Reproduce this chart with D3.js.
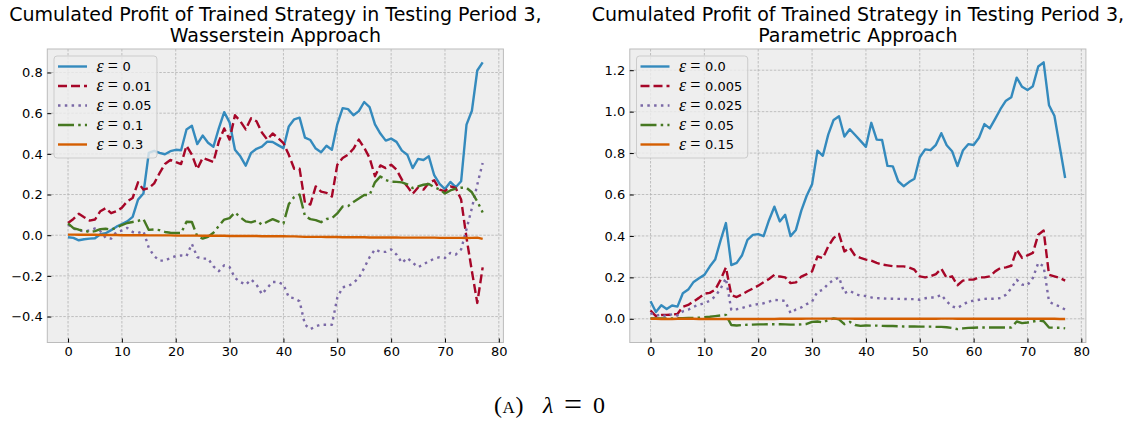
<!DOCTYPE html>
<html>
<head>
<meta charset="utf-8">
<script src="https://d3js.org/d3.v7.min.js"></script>
<style>
  body { margin: 0; background: #ffffff; }
</style>
</head>
<body>
<div id="chart"></div>
<script>
// ---- data (one value per testing step 0..77) ----
const steps = d3.range(78);

const xTicks = [0, 10, 20, 30, 40, 50, 60, 70, 80];
const wassYTicks = [-0.4, -0.2, 0.0, 0.2, 0.4, 0.6, 0.8];
const paramYTicks = [0.0, 0.2, 0.4, 0.6, 0.8, 1.0, 1.2];

const wassLabels = ["0", "0.01", "0.05", "0.1", "0.3"];
const paramLabels = ["0.0", "0.005", "0.025", "0.05", "0.15"];

// Wasserstein approach
const wass0 = [-0.010,-0.013,-0.025,-0.020,-0.017,-0.015,0.005,0.010,0.025,0.042,
  0.055,0.068,0.090,0.175,0.205,0.405,0.415,0.405,0.398,0.413,
  0.420,0.418,0.520,0.538,0.448,0.490,0.455,0.435,0.525,0.605,
  0.555,0.420,0.388,0.342,0.405,0.425,0.435,0.460,0.458,0.443,
  0.428,0.535,0.570,0.578,0.480,0.468,0.426,0.408,0.440,0.420,
  0.545,0.625,0.620,0.590,0.610,0.655,0.630,0.545,0.500,0.465,
  0.475,0.459,0.416,0.396,0.330,0.375,0.370,0.388,0.295,0.252,
  0.227,0.262,0.236,0.265,0.544,0.612,0.810,0.850];
const wass001 = [0.060,0.080,0.105,0.088,0.072,0.077,0.118,0.133,0.108,0.118,
  0.135,0.167,0.183,0.260,0.224,0.232,0.255,0.305,0.350,0.370,
  0.360,0.350,0.440,0.396,0.325,0.380,0.370,0.360,0.460,0.525,
  0.470,0.590,0.560,0.520,0.575,0.560,0.505,0.470,0.500,0.478,
  0.453,0.395,0.327,0.327,0.159,0.151,0.240,0.214,0.208,0.190,
  0.346,0.380,0.396,0.425,0.470,0.430,0.380,0.290,0.343,0.330,
  0.347,0.322,0.273,0.240,0.203,0.235,0.224,0.257,0.270,0.224,
  0.216,0.240,0.232,0.175,-0.013,-0.177,-0.333,-0.158];
const wass005 = [0.052,0.033,0.023,0.020,0.023,0.033,0.020,-0.013,-0.017,0.016,
  0.023,0.036,0.016,0.011,0.020,-0.062,-0.103,-0.125,-0.125,-0.112,
  -0.103,-0.100,-0.103,-0.043,-0.108,-0.115,-0.115,-0.153,-0.177,-0.148,
  -0.157,-0.210,-0.230,-0.243,-0.218,-0.243,-0.290,-0.259,-0.230,-0.230,
  -0.243,-0.305,-0.310,-0.325,-0.440,-0.462,-0.448,-0.440,-0.440,-0.440,
  -0.308,-0.256,-0.251,-0.235,-0.210,-0.161,-0.108,-0.070,-0.082,-0.082,
  -0.070,-0.095,-0.136,-0.112,-0.135,-0.157,-0.144,-0.128,-0.116,-0.108,
  -0.112,-0.087,-0.095,-0.070,0.030,0.134,0.249,0.355];
const wass01 = [0.058,0.035,0.027,0.022,0.016,0.020,0.030,0.032,0.028,0.036,
  0.050,0.060,0.065,0.070,0.079,0.026,0.028,0.025,0.016,0.012,
  0.011,0.011,0.066,0.065,-0.006,-0.017,-0.008,0.012,0.045,0.077,
  0.084,0.112,0.088,0.068,0.063,0.072,0.052,0.066,0.079,0.068,
  0.057,0.153,0.188,0.200,0.094,0.079,0.074,0.064,0.080,0.083,
  0.107,0.141,0.143,0.163,0.180,0.198,0.198,0.260,0.289,0.271,
  0.263,0.262,0.260,0.250,0.232,0.240,0.248,0.252,0.236,0.225,
  0.205,0.220,0.229,0.234,0.233,0.211,0.166,0.112];
const wass03 = [0.003,0.003,0.002,0.002,0.002,0.002,0.001,0.001,0.001,0.001,
  0.000,0.000,0.000,0.000,0.000,-0.001,-0.001,-0.001,-0.001,-0.001,
  -0.002,-0.002,-0.002,-0.002,-0.002,-0.003,-0.003,-0.003,-0.003,-0.003,
  -0.004,-0.004,-0.004,-0.004,-0.004,-0.004,-0.005,-0.005,-0.005,-0.005,
  -0.005,-0.006,-0.006,-0.007,-0.008,-0.008,-0.008,-0.008,-0.009,-0.009,
  -0.009,-0.010,-0.010,-0.010,-0.010,-0.010,-0.011,-0.011,-0.011,-0.011,
  -0.011,-0.011,-0.012,-0.012,-0.012,-0.012,-0.012,-0.012,-0.012,-0.013,
  -0.013,-0.013,-0.013,-0.013,-0.014,-0.013,-0.012,-0.018];

// Parametric approach
const param00 = [0.085,0.033,0.065,0.047,0.064,0.059,0.123,0.141,0.178,0.196,
  0.212,0.252,0.286,0.377,0.462,0.259,0.270,0.307,0.381,0.405,
  0.409,0.399,0.476,0.541,0.470,0.502,0.399,0.429,0.522,0.594,
  0.649,0.812,0.787,0.889,0.960,0.978,0.880,0.915,0.887,0.859,
  0.830,0.946,0.865,0.863,0.738,0.736,0.664,0.640,0.660,0.676,
  0.780,0.818,0.814,0.840,0.896,0.838,0.809,0.737,0.812,0.843,
  0.839,0.874,0.940,0.919,0.965,1.013,1.053,1.070,1.164,1.120,
  1.104,1.123,1.218,1.238,1.031,0.980,0.830,0.680];
const param0005 = [0.040,0.013,0.018,0.019,0.020,0.023,0.058,0.067,0.084,0.101,
  0.121,0.125,0.140,0.188,0.248,0.115,0.105,0.118,0.133,0.146,
  0.160,0.177,0.192,0.212,0.204,0.200,0.172,0.176,0.204,0.216,
  0.229,0.301,0.293,0.349,0.390,0.410,0.325,0.343,0.304,0.294,
  0.286,0.281,0.270,0.262,0.258,0.254,0.253,0.253,0.248,0.237,
  0.205,0.200,0.205,0.216,0.242,0.197,0.205,0.162,0.184,0.189,
  0.189,0.200,0.200,0.205,0.229,0.245,0.248,0.256,0.334,0.294,
  0.306,0.318,0.406,0.426,0.213,0.205,0.197,0.184];
const param0025 = [0.028,0.016,0.020,0.011,0.023,0.016,0.036,0.044,0.058,0.068,
  0.076,0.087,0.108,0.145,0.196,0.043,0.046,0.052,0.060,0.067,
  0.071,0.075,0.083,0.091,0.090,0.086,0.028,0.045,0.055,0.071,
  0.083,0.131,0.140,0.169,0.188,0.200,0.125,0.135,0.120,0.112,
  0.110,0.103,0.100,0.099,0.097,0.097,0.096,0.096,0.095,0.095,
  0.092,0.099,0.103,0.103,0.116,0.084,0.060,0.052,0.068,0.083,
  0.087,0.092,0.096,0.097,0.097,0.100,0.116,0.148,0.188,0.165,
  0.162,0.197,0.270,0.253,0.084,0.068,0.060,0.044];
const param005 = [0.002,0.002,0.002,0.002,0.002,0.003,0.003,0.004,0.004,0.005,
  0.008,0.010,0.013,0.016,0.019,-0.030,-0.032,-0.030,-0.029,-0.028,
  -0.027,-0.027,-0.026,-0.026,-0.026,-0.027,-0.028,-0.028,-0.027,-0.025,
  -0.015,-0.013,-0.018,-0.006,0.002,-0.003,-0.026,-0.015,-0.030,-0.034,
  -0.032,-0.033,-0.033,-0.034,-0.035,-0.035,-0.036,-0.037,-0.037,-0.037,
  -0.038,-0.038,-0.038,-0.039,-0.039,-0.041,-0.044,-0.050,-0.046,-0.044,
  -0.043,-0.042,-0.042,-0.042,-0.042,-0.042,-0.042,-0.042,-0.013,-0.021,
  -0.018,-0.013,-0.008,-0.012,-0.042,-0.043,-0.043,-0.046];
const param015 = [0.000,0.000,-0.001,-0.001,-0.001,0.000,0.000,0.000,0.000,-0.001,
  -0.001,-0.001,-0.001,-0.001,-0.001,-0.001,-0.001,-0.001,-0.001,-0.001,
  -0.001,-0.001,-0.001,-0.001,0.000,0.000,0.000,0.000,0.000,0.001,
  0.001,0.001,0.001,0.001,0.001,0.001,0.001,0.001,0.000,0.000,
  0.000,0.000,0.000,0.000,0.000,0.000,0.000,0.000,0.000,0.000,
  0.000,0.000,0.000,0.000,0.001,0.001,0.001,0.000,0.000,0.000,
  0.000,0.000,0.000,0.000,0.000,0.000,0.000,0.000,0.000,0.000,
  0.000,0.000,0.000,0.000,0.000,0.000,-0.001,-0.001];

// bmh colour cycle + line styles (solid, dashed, dotted, dash-dot, solid)
const colors = ["#348ABD", "#A60628", "#7A68A6", "#467821", "#D55E00"];
const dashes = [null, "9,4", "2.5,4.3", "16,4.2,2.5,4.2", null];

const width = 1137, height = 421;
const svg = d3.select("#chart").append("svg")
  .attr("width", width)
  .attr("height", height)
  .style("font-family", "'DejaVu Sans', sans-serif");

function drawPanel(left, series, labels, yTicks, subtitle) {
  const top = 49, bottom = 342.5, w = 456.1;

  // matplotlib style 5% margins
  const xr = d3.extent(steps), xm = (xr[1] - xr[0]) * 0.05;
  const yr = d3.extent(series.flat()), ym = (yr[1] - yr[0]) * 0.05;
  const x = d3.scaleLinear().domain([xr[0] - xm, xr[1] + xm]).range([left, left + w]);
  const y = d3.scaleLinear().domain([yr[0] - ym, yr[1] + ym]).range([bottom, top]);

  const g = svg.append("g");

  g.append("rect")
    .attr("x", left).attr("y", top)
    .attr("width", w).attr("height", bottom - top)
    .attr("fill", "#eeeeee");

  // grid
  const grid = g.append("g")
    .attr("stroke", "#b2b2b2")
    .attr("stroke-width", 0.8)
    .attr("stroke-dasharray", "2.5,1.5");
  grid.selectAll(".gx").data(xTicks).join("line")
    .attr("x1", d => x(d)).attr("x2", d => x(d))
    .attr("y1", top).attr("y2", bottom);
  grid.selectAll(".gy").data(yTicks).join("line")
    .attr("y1", d => y(d)).attr("y2", d => y(d))
    .attr("x1", left).attr("x2", left + w);

  // the lines
  const line = d3.line().x((d, i) => x(steps[i])).y(d => y(d));
  series.forEach(function(s, k) {
    g.append("path")
      .datum(s)
      .attr("d", line)
      .attr("fill", "none")
      .attr("stroke", colors[k])
      .attr("stroke-width", 2.4)
      .attr("stroke-linejoin", "round")
      .attr("stroke-dasharray", dashes[k]);
  });

  // frame
  g.append("rect")
    .attr("x", left).attr("y", top)
    .attr("width", w).attr("height", bottom - top)
    .attr("fill", "none")
    .attr("stroke", "#bcbcbc")
    .attr("stroke-width", 1);

  // axes, ticks pointing inwards
  const xAxis = g.append("g")
    .attr("transform", "translate(0," + bottom + ")")
    .call(d3.axisBottom(x).tickValues(xTicks).tickSize(-4).tickPadding(4.6).tickFormat(d3.format("d")));
  const yAxis = g.append("g")
    .attr("transform", "translate(" + left + ",0)")
    .call(d3.axisLeft(y).tickValues(yTicks).tickSize(-4).tickPadding(4.6).tickFormat(d3.format(".1f")));
  [xAxis, yAxis].forEach(function(a) {
    a.select(".domain").remove();
    a.selectAll(".tick line").attr("stroke", "#000").attr("stroke-width", 1);
    a.selectAll(".tick text")
      .attr("fill", "#000")
      .style("font-family", "'DejaVu Sans', sans-serif")
      .style("font-size", "13px");
  });

  // title, two lines
  const cx = left + w / 2;
  const title = g.append("text")
    .attr("text-anchor", "middle")
    .attr("fill", "#000")
    .style("font-size", "19px");
  title.append("tspan").attr("x", cx).attr("y", 21)
    .text("Cumulated Profit of Trained Strategy in Testing Period 3,");
  title.append("tspan").attr("x", cx).attr("y", 42).text(subtitle);

  // legend
  const lx = left + 6.7, ly = 56;
  const leg = g.append("g");
  const box = leg.append("rect")
    .attr("x", lx).attr("y", ly)
    .attr("height", 102)
    .attr("rx", 3)
    .attr("fill", "#eeeeee")
    .attr("fill-opacity", 0.8)
    .attr("stroke", "#cccccc")
    .attr("stroke-width", 1);
  let maxRight = 0;
  labels.forEach(function(lab, k) {
    const cy = ly + 10.5 + k * 19.5;
    leg.append("line")
      .attr("x1", lx + 4).attr("x2", lx + 33)
      .attr("y1", cy).attr("y2", cy)
      .attr("stroke", colors[k])
      .attr("stroke-width", 2.4)
      .attr("stroke-dasharray", dashes[k]);
    // epsilon and equals sign in a serif, like mathtext
    const eq = leg.append("text")
      .attr("y", cy + 5)
      .attr("fill", "#000")
      .style("font-family", "'Liberation Serif', serif")
      .style("font-size", "18px");
    eq.append("tspan").attr("x", lx + 42.5).style("font-style", "italic").text("\u03b5");
    eq.append("tspan").attr("x", lx + 53.8).text("=");
    const val = leg.append("text")
      .attr("x", lx + 68.5).attr("y", cy + 4.6)
      .attr("fill", "#000")
      .style("font-size", "13px")
      .text(lab);
    maxRight = Math.max(maxRight, lx + 68.5 + val.node().getComputedTextLength());
  });
  box.attr("width", maxRight + 5.5 - lx);
}

drawPanel(47.3, [wass0, wass001, wass005, wass01, wass03], wassLabels, wassYTicks, "Wasserstein Approach");
drawPanel(629.8, [param00, param0005, param0025, param005, param015], paramLabels, paramYTicks, "Parametric Approach");

// caption under both panels: (A) lambda = 0
const cap = svg.append("text")
  .attr("y", 413)
  .attr("fill", "#000")
  .style("font-family", "'Liberation Serif', serif")
  .style("font-size", "24px");
cap.append("tspan").attr("x", 494).text("(");
cap.append("tspan").attr("x", 502.5).style("font-size", "17px").text("A");
cap.append("tspan").attr("x", 515.5).text(")");
cap.append("tspan").attr("x", 543).style("font-style", "italic").text("\u03bb");
cap.append("tspan").attr("x", 564).style("font-size", "32px").attr("dy", 2).text("=");
cap.append("tspan").attr("x", 593).attr("dy", -2).text("0");
</script>
</body>
</html>
